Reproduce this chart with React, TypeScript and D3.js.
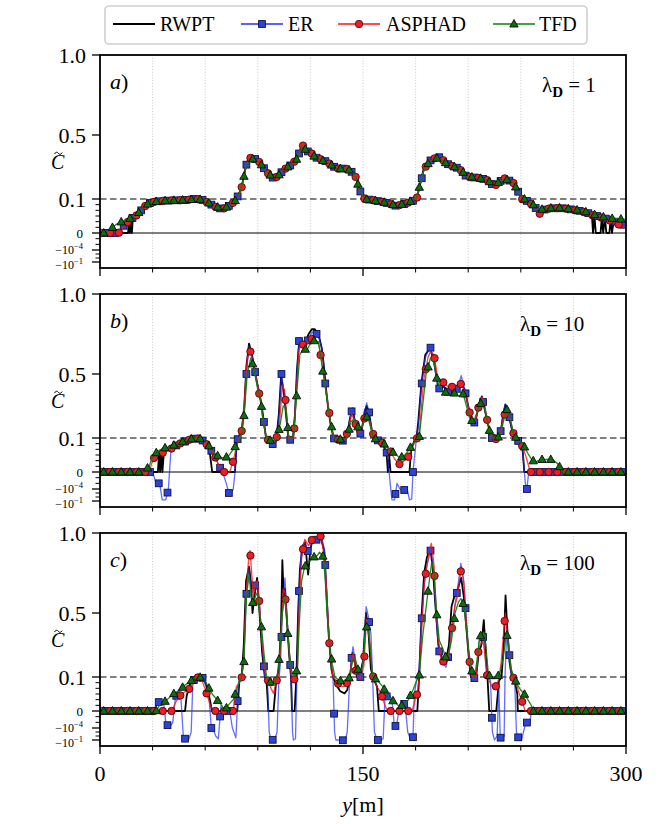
import React from "react";
import * as d3 from "d3";

type Pt = [number, number];

// ---------- categories / labels ----------
const SERIES_NAMES = ["RWPT", "ER", "ASPHAD", "TFD"];
const PANEL_LABELS = ["a", "b", "c"];
const LAMBDA_VALUES = ["1", "10", "100"];
const X_MAJOR_TICKS = [0, 150, 300];
const X_MINOR_TICKS = [30, 60, 90, 120, 180, 210, 240, 270];
const X_GRID = [30, 60, 90, 120, 150, 180, 210, 240, 270];
const Y_MAJOR_TICKS = [1.0, 0.5, 0.1, 0, -1e-4, -1e-1];
const Y_MAJOR_LABELS = ["1.0", "0.5", "0.1", "0", "-4", "-1"];
const Y_MINOR_TICKS = [1e-2, 1e-3, 1e-4, 1e-5, 1e-6, -1e-6, -1e-5, -1e-3, -1e-2];
const THRESHOLD = 0.1;

// ---------- panel a (lambda_D = 1) ----------
const ER_A: Pt[] = [[0,0],[9.5,0],[11.5,3e-7],[14,3e-6],[16,1e-5],[19,6e-5],[21,1.5e-4],[23.5,1e-3],[25.7,6e-3],[28,0.018],[30.4,0.03],[35,0.045],[40,0.055],[45,0.06],[50,0.07],[53,0.09],[55,0.105],[58,0.08],[60,0.04],[63,0.012],[65.6,5e-3],[69.4,1.7e-3],[72,3e-3],[74,8e-3],[77,0.04],[80,0.146],[81.4,0.2],[83.6,0.32],[86,0.365],[88.5,0.35],[91,0.33],[93,0.3],[95,0.27],[98,0.235],[100,0.23],[102,0.25],[104.6,0.28],[107,0.3],[110,0.32],[113,0.37],[115.4,0.44],[118,0.4],[120.7,0.385],[123,0.36],[125.5,0.35],[128,0.34],[131,0.32],[135,0.29],[140,0.29],[142.5,0.28],[145.5,0.25],[148,0.156],[151,0.1],[156,0.06],[160,0.035],[163.5,0.02],[169,6e-3],[173,0.012],[177,0.03],[180.6,0.1],[184.4,0.27],[187,0.33],[189,0.345],[191,0.36],[193,0.365],[195.5,0.345],[198,0.32],[201,0.305],[205,0.29],[209,0.24],[213,0.235],[216.8,0.23],[220.6,0.22],[225,0.18],[228,0.21],[231,0.23],[233.5,0.215],[235.8,0.2],[240.5,0.105],[243,0.06],[245,0.02],[248,5e-3],[250.6,1.5e-4],[252,1.1e-3],[256.6,2.2e-3],[262,2.5e-3],[266,2e-3],[271,1.1e-3],[276,6e-4],[281.4,1.5e-4],[286,6e-5],[291,2e-5],[296,5e-6],[300,2e-6]];
const RWPT_A: Pt[] = [[0,0],[16,0],[16.6,2e-5],[17.1,0],[17.7,4e-5],[18.2,0],[18.8,8e-5],[19.3,1e-4],[21,1.5e-4],[23.5,1e-3],[25.7,6e-3],[28,0.018],[30.4,0.03],[35,0.046],[40,0.055],[45,0.062],[50,0.07],[53,0.09],[55,0.1],[58,0.08],[60,0.04],[63,0.012],[65.6,5e-3],[69.4,1.5e-3],[72,3e-3],[74,8e-3],[77,0.04],[80,0.15],[81.4,0.21],[83.6,0.33],[86,0.36],[88.5,0.35],[91,0.33],[93,0.3],[95,0.27],[98,0.235],[100,0.23],[102,0.25],[104.6,0.28],[107,0.3],[110,0.32],[113,0.375],[115.4,0.445],[118,0.4],[120.7,0.385],[123,0.36],[125.5,0.35],[128,0.34],[131,0.32],[135,0.29],[140,0.29],[142.5,0.28],[145.5,0.25],[148,0.16],[151,0.1],[156,0.06],[160,0.035],[163.5,0.02],[169,6e-3],[173,0.012],[177,0.03],[180.6,0.1],[184.4,0.28],[187,0.33],[189,0.35],[191,0.36],[193,0.36],[195.5,0.345],[198,0.32],[201,0.305],[205,0.29],[209,0.24],[213,0.235],[216.8,0.23],[220.6,0.22],[225,0.18],[228,0.21],[231,0.23],[233.5,0.215],[235.8,0.2],[240.5,0.1],[243,0.06],[245,0.02],[248,5e-3],[250.6,1.5e-4],[252,1.1e-3],[256.6,2.2e-3],[262,2.5e-3],[266,2e-3],[271,1.1e-3],[276,6e-4],[280.5,2e-4],[281.2,0],[282,1e-4],[282.8,0],[285.5,0],[286.2,6e-5],[287,0],[288,5e-5],[288.8,0],[290.5,0],[291.2,2e-5],[292,0],[293,1.5e-5],[296,8e-6],[300,4e-6]];
const ASPHAD_A: Pt[] = [[0,0],[10.5,0],[12,2e-7],[14,2e-6],[16,1e-5],[19,5e-5],[21,1.4e-4],[23.5,9e-4],[25.7,5.5e-3],[28,0.017],[30.4,0.03],[35,0.045],[40,0.056],[45,0.06],[50,0.072],[53,0.09],[55,0.1],[58,0.08],[60,0.04],[63,0.012],[65.6,4.5e-3],[69.4,1.6e-3],[72,3e-3],[74,8e-3],[77,0.04],[80,0.14],[81.4,0.2],[83.6,0.32],[86,0.36],[88.5,0.35],[91,0.33],[93,0.3],[95,0.27],[98,0.235],[100,0.23],[102,0.25],[104.6,0.28],[107,0.3],[110,0.32],[113,0.37],[115.4,0.44],[118,0.4],[120.7,0.385],[123,0.36],[125.5,0.35],[128,0.34],[131,0.32],[135,0.29],[140,0.29],[142.5,0.28],[145.5,0.25],[148,0.15],[151,0.1],[156,0.06],[160,0.035],[163.5,0.02],[169,6e-3],[173,0.012],[177,0.03],[180.6,0.1],[184.4,0.27],[187,0.33],[189,0.345],[191,0.355],[193,0.36],[195.5,0.345],[198,0.32],[201,0.305],[205,0.29],[209,0.24],[213,0.235],[216.8,0.23],[220.6,0.22],[225,0.18],[228,0.21],[231,0.23],[233.5,0.215],[235.8,0.2],[240.5,0.1],[243,0.06],[245,0.02],[248,5e-3],[250.6,2e-4],[252,1.1e-3],[256.6,2.2e-3],[262,2.5e-3],[266,2e-3],[271,1e-3],[276,5e-4],[281.4,1.2e-4],[286,5e-5],[291,1.5e-5],[296,3e-6],[300,8e-7]];
const TFD_A: Pt[] = [[0,0],[3,1e-7],[6,5e-7],[9,3e-6],[12.4,1e-5],[16,2.5e-5],[19,7e-5],[21,1.8e-4],[23.5,1.2e-3],[25.7,6.5e-3],[28,0.019],[30.4,0.032],[35,0.046],[40,0.055],[45,0.061],[50,0.07],[53,0.085],[55,0.1],[58,0.08],[60,0.045],[63,0.014],[65.6,5.5e-3],[69.4,2e-3],[72,3.5e-3],[74,9e-3],[77,0.045],[80,0.15],[81.4,0.21],[83.6,0.31],[86,0.355],[88.5,0.345],[91,0.33],[93,0.3],[95,0.27],[98,0.24],[100,0.235],[102,0.25],[104.6,0.28],[107,0.3],[110,0.32],[113,0.36],[115.4,0.43],[118,0.4],[120.7,0.38],[123,0.36],[125.5,0.35],[128,0.335],[131,0.32],[135,0.29],[140,0.29],[142.5,0.28],[145.5,0.25],[148,0.16],[151,0.1],[156,0.06],[160,0.037],[163.5,0.022],[169,7e-3],[173,0.013],[177,0.035],[180.6,0.11],[184.4,0.27],[187,0.32],[189,0.34],[191,0.355],[193,0.355],[195.5,0.34],[198,0.32],[201,0.305],[205,0.29],[209,0.245],[213,0.235],[216.8,0.23],[220.6,0.22],[225,0.185],[228,0.21],[231,0.225],[233.5,0.215],[235.8,0.2],[240.5,0.11],[243,0.065],[245,0.025],[248,6e-3],[250.6,1e-3],[252,1.5e-3],[256.6,2.5e-3],[262,2.8e-3],[266,2.2e-3],[271,1.3e-3],[276,7e-4],[281.4,2e-4],[286,8e-5],[291,4e-5],[296,3e-5],[300,2.5e-5]];

// ---------- panel b (lambda_D = 10) ----------
const RWPT_B: Pt[] = [[0,0],[33,0],[33.7,1.5e-4],[34.3,0],[35,2e-4],[35.6,0],[36.5,5e-4],[38,6e-4],[40,1e-3],[43,4e-3],[45,8.7e-3],[48,0.02],[50.4,0.045],[52,0.06],[54.5,0.09],[56,0.085],[58,0.05],[60.8,8e-3],[62.5,5e-4],[64,0],[77,0],[78,0.03],[80.8,0.15],[82.2,0.28],[83.5,0.55],[85,0.69],[86.5,0.63],[89.1,0.47],[91.8,0.33],[93.5,0.2],[94.7,0.1],[96,0.04],[98,0.02],[99.4,0.01],[100.5,0.04],[102,0.25],[103.3,0.49],[105,0.37],[106.5,0.2],[107.4,0.1],[108.8,0.04],[110,0.07],[111.2,0.25],[112.3,0.52],[113.5,0.69],[115,0.7],[117,0.7],[119,0.75],[120.8,0.78],[122.5,0.78],[124.6,0.75],[126.5,0.66],[127.7,0.55],[128.8,0.42],[130,0.3],[131.3,0.2],[133.2,0.1],[134.5,0.05],[137,0.03],[139,0.04],[141,0.12],[142.5,0.22],[144,0.28],[145.5,0.2],[147.2,0.12],[149,0.13],[151,0.27],[152.1,0.3],[153.5,0.25],[155,0.15],[156,0.1],[159.6,0.025],[162,3e-3],[163.5,1e-4],[164.2,0],[165,5e-5],[165.7,0],[176.5,0],[177.5,1e-3],[179,0.02],[180.5,0.1],[181.5,0.2],[183.3,0.44],[185.5,0.62],[188.3,0.66],[190.5,0.58],[192.7,0.43],[194,0.41],[196,0.42],[198.4,0.4],[200,0.42],[202,0.41],[204,0.43],[206,0.44],[208.1,0.4],[210,0.3],[212.5,0.19],[214,0.2],[216,0.3],[217.8,0.36],[219,0.3],[220.6,0.22],[222.5,0.13],[223.5,0.1],[225.4,0.04],[227,0.05],[228.7,0.15],[230,0.25],[231.2,0.31],[232.5,0.28],[234,0.2],[236,0.1],[239.4,0.02],[241,1e-3],[242,0],[300,0]];
const ER_B: Pt[] = [[0,0],[30,0],[32,-1e-5],[34,-1e-5],[35.5,-0.05],[37.5,-0.05],[39,-1e-4],[40.5,1e-3],[43,4e-3],[45,8.7e-3],[48,0.02],[50.4,0.045],[52,0.06],[54.5,0.09],[56,0.085],[58,0.05],[60.8,8e-3],[63,1e-3],[65.6,5e-5],[68,1e-6],[70,0],[72,-1e-5],[73.5,-1e-3],[75,-1e-3],[76,-1e-4],[77,0],[78,0.03],[80.8,0.144],[82.2,0.25],[83.5,0.5],[85,0.675],[86.5,0.63],[89.1,0.477],[91.8,0.33],[93.5,0.2],[94.7,0.1],[96,0.04],[97.5,0.02],[99.4,4e-3],[100.5,0.04],[102,0.227],[103.5,0.5],[105,0.38],[106.5,0.2],[107.4,0.1],[108.8,0.04],[110,0.07],[111.2,0.23],[112.3,0.5],[113.5,0.706],[115,0.7],[117,0.68],[119,0.72],[120.8,0.76],[122.5,0.76],[124.6,0.74],[126.5,0.66],[127.7,0.55],[128.8,0.4],[130,0.3],[131.3,0.2],[133.2,0.1],[134.5,0.045],[137,0.03],[139,0.035],[141,0.12],[142.5,0.22],[144,0.29],[145.5,0.2],[147.2,0.12],[149,0.13],[151,0.27],[152.1,0.32],[153.5,0.26],[155,0.15],[156,0.1],[159.6,0.025],[162,5e-3],[164,1e-4],[165.5,-1e-5],[166.5,-0.05],[168,-0.05],[169.4,-1e-5],[171,-1e-4],[173,-3e-4],[175,-5e-5],[176.5,-0.05],[177.8,-0.03],[178.5,0],[180.5,0.1],[181.5,0.165],[183.3,0.425],[185.5,0.6],[188.3,0.675],[190.5,0.56],[192.7,0.425],[194,0.4],[196,0.42],[198.4,0.39],[200,0.38],[202,0.4],[204,0.41],[206,0.49],[207,0.45],[208.1,0.4],[210,0.3],[212.5,0.19],[214,0.2],[216,0.3],[217.8,0.36],[219,0.3],[220.6,0.22],[222.5,0.13],[223.5,0.1],[225.4,0.04],[227,0.05],[228.7,0.15],[230,0.25],[231.2,0.31],[232.5,0.29],[234,0.2],[236,0.1],[239.4,0.02],[241,1e-3],[242.6,-1e-5],[243.5,-1e-4],[244.5,0],[300,0]];
const ASPHAD_B: Pt[] = [[0,0],[26,0],[28,1e-7],[30.4,2.5e-5],[35,2e-4],[40,1e-3],[45,8.7e-3],[50.4,0.045],[54.5,0.08],[56,0.08],[58,0.04],[60.8,8e-3],[63,1e-3],[65.6,5e-5],[68,1e-6],[70.4,0],[74,0],[76,1e-5],[78,5e-3],[80.8,0.144],[82.5,0.35],[84,0.6],[85.6,0.65],[87,0.58],[90.5,0.4],[92.5,0.25],[94.7,0.1],[96.5,0.03],[98.5,0.015],[100.5,0.05],[102.5,0.2],[104,0.43],[105.3,0.4],[106.5,0.25],[107.5,0.1],[109,0.05],[110.5,0.1],[111.5,0.3],[113.5,0.65],[115,0.7],[117,0.66],[119,0.71],[121,0.72],[123,0.71],[124.6,0.7],[125.5,0.64],[127.5,0.5],[130,0.32],[131.5,0.2],[133.2,0.1],[135,0.05],[138,0.05],[140,0.09],[141.5,0.15],[143.5,0.25],[145.5,0.2],[147.2,0.13],[149,0.15],[151.5,0.25],[153,0.24],[155,0.154],[156.5,0.1],[160,0.025],[165.3,8e-4],[168,2e-5],[171.1,2e-6],[173.5,1e-5],[175.8,5e-5],[178,2e-3],[180.5,0.06],[182,0.12],[184.6,0.46],[187,0.6],[188.5,0.64],[190.5,0.62],[192.5,0.48],[195.6,0.45],[198.4,0.42],[201,0.42],[204,0.42],[206,0.44],[208.5,0.38],[210.5,0.27],[212.5,0.2],[214,0.2],[216,0.3],[218,0.355],[219.5,0.3],[221,0.2],[223.5,0.1],[225.5,0.06],[227.5,0.1],[228.7,0.154],[230,0.22],[231.5,0.27],[233,0.25],[234,0.22],[236,0.12],[237.5,0.07],[239.4,0.02],[241,3e-3],[243,5e-5],[245.4,0],[300,0]];
const TFD_B: Pt[] = [[0,0],[25,0],[28,1e-6],[30,5e-5],[33,5e-4],[36,1.5e-3],[40,3e-3],[45,0.012],[50,0.05],[55,0.1],[57,0.08],[60,0.02],[63,2e-3],[66,1e-4],[70,3e-5],[73,5e-5],[76,1e-3],[79,0.02],[81,0.13],[82.2,0.25],[84,0.5],[86,0.6],[87.5,0.55],[90,0.4],[91.8,0.33],[93,0.2],[95,0.1],[97,0.04],[99,0.03],[101,0.08],[103,0.2],[104.5,0.3],[106,0.29],[107.5,0.12],[109,0.07],[110.5,0.12],[112,0.35],[114,0.62],[116,0.66],[118,0.65],[120.5,0.7],[122.5,0.71],[124.6,0.7],[126,0.6],[128,0.45],[131.3,0.21],[133.5,0.1],[136,0.06],[139,0.06],[141,0.1],[143,0.2],[145,0.22],[147.5,0.16],[149.5,0.17],[151.5,0.24],[153,0.22],[156,0.1],[160,0.03],[163,5e-3],[166,6e-4],[169,1e-4],[171.1,3e-5],[174,1e-4],[177,2e-3],[180,0.04],[182,0.1],[184,0.3],[186,0.5],[188.5,0.6],[190.5,0.57],[192.5,0.45],[195,0.4],[198,0.38],[200,0.37],[202,0.38],[204,0.39],[207,0.38],[209,0.3],[211,0.22],[213,0.2],[215,0.26],[218,0.34],[220,0.26],[222,0.15],[224,0.1],[226,0.07],[228.5,0.12],[230,0.2],[232,0.28],[233.5,0.24],[236,0.12],[238,0.06],[240,0.02],[242,3e-3],[244,2e-4],[246,2e-5],[248,5e-6],[250,1e-5],[252,1.6e-5],[258,1.6e-5],[261,3e-6],[264,0],[300,0]];

// ---------- panel c (lambda_D = 100) ----------
const RWPT_C: Pt[] = [[0,0],[48.5,0],[49.4,4e-5],[51,3e-3],[52.5,0.04],[54.2,0.09],[56,0.1],[57.8,0.1],[59,0.06],[60.5,5e-3],[62,1e-4],[63.9,0],[78.3,0],[79.5,0.02],[80.8,0.1],[82,0.3],[83.3,0.7],[85,0.79],[86,0.7],[87,0.5],[88,0.6],[89.6,0.72],[91,0.5],[92.5,0.25],[94,0.1],[95,0.02],[96,0],[99,0],[100.5,0.02],[102,0.15],[103.2,0.4],[104,0.83],[104.8,0.6],[105.5,0.65],[106.8,0.42],[108,0.22],[109,0.05],[109.5,0],[111,0],[112,0.1],[113,0.5],[114,0.77],[115.5,0.92],[117,0.94],[118.7,0.74],[120,0.9],[121.5,0.97],[124,0.95],[126,0.97],[128,0.88],[129.5,0.55],[130.5,0.35],[132,0.15],[133,0.08],[134.5,6e-3],[137,3e-4],[139.5,1.3e-4],[141,5e-4],[142.5,0.05],[144,0.25],[145,0.22],[146.5,0.1],[148,0.08],[150,0.2],[151.7,0.5],[153,0.4],[154.5,0.15],[156,0.05],[158,2e-3],[159,0],[181,0],[182,0.1],[183.5,0.5],[184.9,0.75],[186.5,0.85],[188.5,0.9],[190,0.75],[191.6,0.5],[193,0.3],[195,0.22],[197.3,0.2],[199,0.3],[200.5,0.54],[202,0.6],[203.5,0.62],[204.7,0.675],[206,0.72],[207.5,0.6],[209,0.4],[210.5,0.2],[211.5,0.1],[213,0.06],[214.5,0.1],[216,0.25],[217.5,0.3],[218.9,0.456],[219.8,0.3],[221,0.08],[222,0],[226,0],[227.5,0.02],[229,0.1],[230.3,0.3],[231.3,0.61],[232.3,0.4],[233.5,0.2],[235,0.1],[236.5,0.02],[238,1e-4],[238.3,0],[300,0]];
const ER_C: Pt[] = [[0,0],[30,0],[32,1e-6],[34.2,7e-6],[36.5,1e-6],[37.5,-1e-5],[39.5,-1e-4],[41.5,-1e-5],[43,2e-5],[44.7,4e-4],[46,1e-4],[47.5,-1e-2],[49,-0.1],[50.5,-0.1],[52,-1e-3],[53,0.02],[55,0.09],[57,0.1],[58.5,0.07],[60,5e-3],[62,1e-4],[63.5,-1e-4],[64.5,-1.5e-4],[66,-0.01],[67.5,-0.05],[69,1e-6],[70,0],[74,0],[75.5,-1e-4],[77.5,-0.03],[79,0.01],[80.5,0.07],[82,0.2],[83.3,0.6],[85,0.77],[86.5,0.62],[88,0.66],[89.6,0.7],[91,0.55],[92.5,0.3],[94,0.1],[95.5,0.04],[96.5,-1e-3],[97.5,-0.08],[99.5,-0.1],[101,-1e-3],[102,0.02],[103,0.2],[104,0.5],[105.5,0.72],[106.8,0.45],[107.8,0.28],[109,0.1],[109.8,-1e-3],[110.3,-0.1],[111.5,-0.05],[112.3,0.1],[113.3,0.6],[114.9,0.9],[116.8,0.95],[118.7,0.88],[121.5,0.95],[124,0.96],[126,0.99],[128,0.9],[129,0.7],[130.4,0.4],[131.5,0.22],[132.9,0.1],[133.8,-1e-3],[134.5,-0.1],[137,-0.1],[139,-0.12],[140,-0.1],[141,-1e-3],[142.5,0.1],[143.5,0.22],[144.3,0.29],[145.5,0.2],[147,0.1],[149,0.1],[150.5,0.25],[151.8,0.54],[153,0.48],[154.5,0.37],[155.5,0.1],[156.5,-1e-3],[158,-0.1],[160,-0.1],[161.5,-0.05],[162.5,1e-5],[164.6,1.6e-4],[166.5,1e-5],[168,-1e-4],[169.4,-1e-5],[171,1e-6],[174,2e-6],[175.5,-1e-3],[177,-0.05],[178.5,-0.02],[179.3,1.2e-4],[180.5,0.02],[182,0.15],[183.5,0.467],[185.5,0.75],[188.5,0.89],[190,0.8],[191.6,0.5],[193,0.28],[195,0.2],[197.3,0.16],[199,0.25],[200.5,0.4],[202.9,0.58],[204.5,0.7],[205.8,0.81],[207.6,0.675],[209,0.45],[210.4,0.23],[211.4,0.1],[213,0.05],[214.5,0.1],[216.2,0.32],[218.5,0.35],[219.5,0.25],[220.8,0.1],[222.7,0.03],[223.8,-1e-3],[225,-0.1],[226.5,-0.01],[227.5,1e-3],[228.3,-0.02],[229.5,-0.1],[230.5,-0.01],[231,0.1],[232,0.4],[232.9,0.34],[234,0.15],[235,0.1],[236.5,0.03],[237.5,-1e-3],[239,-0.1],[240.5,-0.1],[241.5,-1e-3],[243,-1e-5],[245.1,-1.5e-5],[246,0],[300,0]];
const ASPHAD_C: Pt[] = [[0,0],[40,0],[41,1e-7],[43,3e-6],[45.6,5e-5],[48,2e-4],[51.3,1e-3],[53.5,0.02],[55.9,0.09],[57.5,0.07],[59,5e-3],[60.7,1.6e-4],[63,1e-6],[64.5,0],[76,0],[77.8,2e-3],[79.5,0.01],[80.7,0.05],[82,0.2],[83.3,0.6],[85,0.88],[85.6,0.89],[86.5,0.75],[87.5,0.6],[88.5,0.68],[89.8,0.7],[91,0.55],[92.5,0.3],[94.5,0.1],[96,0.02],[97.5,1e-3],[99,1.3e-4],[100.6,0.02],[102,0.1],[103,0.3],[104.5,0.65],[105.5,0.63],[106.8,0.435],[108,0.25],[109.2,0.1],[110.5,0.04],[111.5,0.04],[112.5,0.1],[113.5,0.5],[115,0.85],[116.8,0.96],[119,0.92],[121.5,0.97],[124,0.97],[126,0.98],[128,0.85],[129.5,0.6],[130.5,0.35],[131.5,0.22],[132.9,0.1],[134.5,0.03],[136.5,3e-3],[139,2e-3],[141,0.01],[142.5,0.08],[143.5,0.2],[144.5,0.25],[145.5,0.15],[147,0.09],[148.5,0.05],[150.5,0.17],[152,0.46],[153.5,0.38],[155,0.15],[156,0.06],[158,2e-3],[160.2,1.3e-4],[162.5,1e-6],[164,0],[178,0],[180,2e-5],[181.1,1.3e-4],[182,0.1],[183.5,0.4],[184.9,0.675],[186.5,0.8],[188,0.9],[189,0.935],[190.5,0.8],[191.6,0.55],[193,0.33],[194.4,0.23],[195.5,0.2],[197.3,0.18],[199,0.25],[200.5,0.38],[202.5,0.55],[203.8,0.6],[205,0.7],[206.2,0.79],[207.5,0.7],[208.5,0.51],[210,0.28],[211.5,0.12],[213.3,0.05],[214.5,0.1],[216,0.28],[217.8,0.32],[219,0.3],[220.5,0.12],[222,0.02],[224.6,6.6e-4],[226.5,5e-3],[227.5,0.06],[228.7,0.18],[230,0.35],[231.2,0.5],[232.5,0.35],[234.4,0.16],[235.5,0.1],[237,0.02],[239.3,7e-5],[241,3e-6],[242.5,0],[300,0]];
const TFD_C: Pt[] = [[0,0],[30,0],[32,1e-7],[34,1e-6],[37.1,5e-6],[40,3e-5],[42.5,1.5e-4],[45.6,5e-4],[48,3e-3],[51.3,0.015],[53.5,0.05],[56,0.1],[58,0.08],[60,0.02],[61.6,2e-3],[64,1e-4],[67.3,6e-6],[69.5,1e-6],[71,1e-7],[73,1e-6],[76.1,1.1e-5],[79,5e-3],[80.5,0.06],[82.1,0.196],[83.5,0.6],[85,0.74],[86.2,0.6],[87.5,0.55],[88.5,0.6],[89.8,0.63],[91,0.5],[92,0.425],[93.5,0.25],[95,0.1],[96.5,0.03],[98,3e-3],[99.5,0.01],[101,0.1],[102.5,0.25],[104,0.5],[105.3,0.6],[106.5,0.45],[107.8,0.28],[109,0.15],[110.5,0.1],[112.6,0.15],[113.5,0.4],[115,0.7],[116.5,0.78],[117.8,0.81],[120,0.83],[122,0.85],[124,0.86],[125.2,0.88],[127.5,0.85],[128.5,0.7],[129.5,0.5],[131,0.3],[132.5,0.18],[134,0.1],[135.5,0.04],[138,0.015],[141,0.025],[142.5,0.1],[144,0.2],[145.5,0.22],[147,0.15],[148.5,0.12],[150,0.18],[151.4,0.4],[152.5,0.42],[154,0.3],[155.5,0.1],[158,0.03],[161.3,2e-3],[163.5,1e-4],[165.9,8.6e-6],[168,5e-6],[170,1e-6],[173,1e-6],[176,1e-5],[178.5,5e-4],[180.5,0.02],[182,0.1],[184,0.35],[186.8,0.61],[189.2,0.82],[190.5,0.75],[192,0.5],[193.5,0.33],[195.4,0.28],[197.3,0.22],[199,0.25],[200.5,0.33],[202.5,0.5],[204.5,0.57],[205.8,0.59],[207.5,0.55],[209,0.4],[210.5,0.25],[212,0.14],[213.5,0.1],[215,0.2],[216.5,0.35],[218.9,0.38],[220,0.3],[221.5,0.12],[223,0.06],[224.5,0.05],[226,0.07],[228,0.12],[230,0.22],[231.8,0.38],[233,0.3],[234.5,0.15],[236,0.1],[238.3,3e-3],[240,5e-4],[242,1e-4],[244,1e-5],[246,1e-6],[247,0],[300,0]];

const PANEL_DATA: Pt[][][] = [
  [RWPT_A, ER_A, ASPHAD_A, TFD_A],
  [RWPT_B, ER_B, ASPHAD_B, TFD_B],
  [RWPT_C, ER_C, ASPHAD_C, TFD_C],
];

// ---------- styling ----------
const FONT = "Liberation Serif, Times New Roman, serif";
const STYLES = [
  { color: "#000000", width: 1.8, opacity: 1, marker: "none", fill: "", edge: "", offset: 0 },
  { color: "#1f2fff", width: 1.3, opacity: 0.7, marker: "square", fill: "#2a44d8", edge: "#101040", offset: 3.5 },
  { color: "#ff1010", width: 1.3, opacity: 0.8, marker: "circle", fill: "#ee1c24", edge: "#4a0808", offset: 0.8 },
  { color: "#0a800a", width: 1.3, opacity: 0.9, marker: "triangle", fill: "#0d6e0d", edge: "#0a0a0a", offset: 2.1 },
];

const W = 658;
const HSVG = 824;
const LEFT = 100;
const RIGHT = 626;
const PANEL_TOPS = [55, 294, 533];
const PH = 213;

const xScale = d3.scaleLinear().domain([0, 300]).range([LEFT, RIGHT]);
const yLin = d3.scaleLinear().domain([0.1, 1]).range([144, 0]);
const yPos = d3.scaleLog().domain([1e-7, 0.1]).range([178, 144]);
const yNegA = d3.scaleLog().domain([1e-7, 1e-4]).range([178, 195]);
const yNegB = d3.scaleLog().domain([1e-4, 1e-1]).range([195, 207]);

function yMap(v: number): number {
  if (v >= 0.1) return yLin(Math.min(v, 1.05));
  if (v >= 1e-7) return yPos(v);
  if (v > -1e-7) return 178;
  const a = -v;
  if (a <= 1e-4) return yNegA(a);
  return yNegB(Math.min(a, 0.4));
}

function interpPx(pts: Pt[], m: number, top: number): [number, number] | null {
  for (let i = 0; i < pts.length - 1; i++) {
    const [m0, v0] = pts[i];
    const [m1, v1] = pts[i + 1];
    if (m >= m0 && m <= m1) {
      const t = m1 === m0 ? 0 : (m - m0) / (m1 - m0);
      const y0 = yMap(v0), y1 = yMap(v1);
      return [xScale(m), top + y0 + t * (y1 - y0)];
    }
  }
  return null;
}

function Marker({ kind, x, y, fill, edge }: { kind: string; x: number; y: number; fill: string; edge: string }) {
  if (kind === "square") return <rect x={x - 3.4} y={y - 3.4} width={6.8} height={6.8} fill={fill} stroke={edge} strokeWidth={0.9} />;
  if (kind === "circle") return <circle cx={x} cy={y} r={3.7} fill={fill} stroke={edge} strokeWidth={0.9} />;
  if (kind === "triangle") return <path d={`M${x},${y - 4.5}L${x + 4.2},${y + 3}L${x - 4.2},${y + 3}Z`} fill={fill} stroke={edge} strokeWidth={0.9} />;
  return null;
}

function Panel({ idx }: { idx: number }) {
  const top = PANEL_TOPS[idx];
  const data = PANEL_DATA[idx];
  const line = d3.line<Pt>().x((d) => xScale(d[0])).y((d) => top + yMap(d[1]));
  const clipId = `clip${idx}`;
  const isLast = idx === 2;
  const ty = top + 98;
  return (
    <g>
      <defs>
        <clipPath id={clipId}>
          <rect x={LEFT} y={top} width={RIGHT - LEFT} height={PH} />
        </clipPath>
      </defs>
      {X_GRID.map((g) => (
        <line key={`g${g}`} x1={xScale(g)} x2={xScale(g)} y1={top} y2={top + PH} stroke="#bdbdbd" strokeWidth={0.8} strokeDasharray="1,1.8" />
      ))}
      <line x1={LEFT} x2={RIGHT} y1={top + yMap(0)} y2={top + yMap(0)} stroke="#000" strokeWidth={1} />
      <line x1={LEFT} x2={RIGHT} y1={top + yMap(THRESHOLD)} y2={top + yMap(THRESHOLD)} stroke="#808080" strokeWidth={1.8} strokeDasharray="6.5,3.5" />
      <g clipPath={`url(#${clipId})`}>
        {data.map((pts, si) => {
          const st = STYLES[si];
          const markers: [number, number][] = [];
          if (st.marker !== "none") {
            for (let m = st.offset; m <= 300; m += 5) {
              const p = interpPx(pts, m, top);
              if (p) markers.push(p);
            }
          }
          return (
            <g key={SERIES_NAMES[si]}>
              <path d={line(pts) || ""} fill="none" stroke={st.color} strokeWidth={st.width} strokeOpacity={st.opacity} strokeLinejoin="round" />
              {markers.map((p, k) => (
                <Marker key={k} kind={st.marker} x={p[0]} y={p[1]} fill={st.fill} edge={st.edge} />
              ))}
            </g>
          );
        })}
      </g>
      {/* frame */}
      <rect x={LEFT} y={top} width={RIGHT - LEFT} height={PH} fill="none" stroke="#000" strokeWidth={1.8} />
      {/* y ticks */}
      {Y_MAJOR_TICKS.map((t, i) => {
        const y = top + yMap(t);
        const big = i < 3;
        const lab = Y_MAJOR_LABELS[i];
        const shift = lab === "-4" ? 3.5 : 6.5;
        return (
          <g key={`yt${i}`}>
            <line x1={LEFT - 8} x2={LEFT} y1={y} y2={y} stroke="#000" strokeWidth={1.3} />
            {big ? (
              <text x={LEFT - 14} y={y + 7.5} textAnchor="end" fontFamily={FONT} fontSize={22}>{lab}</text>
            ) : lab === "0" ? (
              <text x={LEFT - 17} y={y + 4.5} textAnchor="end" fontFamily={FONT} fontSize={13}>0</text>
            ) : (
              <text x={LEFT - 17} y={y + shift} textAnchor="end" fontFamily={FONT} fontSize={12}>
                {"\u221210"}
                <tspan dy={-4.5} fontSize={8.5}>{"\u2212" + lab.slice(1)}</tspan>
              </text>
            )}
          </g>
        );
      })}
      {Y_MINOR_TICKS.map((t, i) => (
        <line key={`ym${i}`} x1={LEFT - 4.5} x2={LEFT} y1={top + yMap(t)} y2={top + yMap(t)} stroke="#000" strokeWidth={1} />
      ))}
      {/* x ticks */}
      {X_MAJOR_TICKS.map((t) => (
        <line key={`xM${t}`} x1={xScale(t)} x2={xScale(t)} y1={top + PH} y2={top + PH + 8} stroke="#000" strokeWidth={1.3} />
      ))}
      {X_MINOR_TICKS.map((t) => (
        <line key={`xm${t}`} x1={xScale(t)} x2={xScale(t)} y1={top + PH} y2={top + PH + 4.5} stroke="#000" strokeWidth={1} />
      ))}
      {isLast &&
        X_MAJOR_TICKS.map((t) => (
          <text key={`xl${t}`} x={xScale(t)} y={top + PH + 35} textAnchor="middle" fontFamily={FONT} fontSize={22}>{t}</text>
        ))}
      {/* y label: italic C with a drawn tilde accent */}
      <text x={51} y={top + 114} fontFamily={FONT} fontSize={20} fontStyle="italic">C</text>
      <path d={`M54.5,${ty + 1} c1.2,-2.2 2.6,-2.2 3.8,-0.7 c1.2,1.5 2.6,1.5 3.8,-0.7`} fill="none" stroke="#000" strokeWidth={1} />
      {/* panel label */}
      <text x={110} y={top + 34} fontFamily={FONT} fontSize={22}>
        <tspan fontStyle="italic">{PANEL_LABELS[idx]}</tspan>)
      </text>
      {/* lambda */}
      <text x={idx === 0 ? 542 : 520} y={top + 37} fontFamily={FONT} fontSize={21}>
        {"\u03bb"}
        <tspan dy={5} fontSize={15} fontWeight="bold">D</tspan>
        <tspan dy={-5}>{" = " + LAMBDA_VALUES[idx]}</tspan>
      </text>
    </g>
  );
}

function Legend() {
  const items = [
    { lx: 113, tx: 160 },
    { lx: 241, tx: 288 },
    { lx: 338, tx: 386 },
    { lx: 493, tx: 539 },
  ];
  const yc = 24;
  return (
    <g>
      <rect x={105} y={6} width={482} height={38} rx={4} fill="#fff" stroke="#cfcfcf" strokeWidth={1.6} />
      {items.map((it, i) => {
        const st = STYLES[i];
        return (
          <g key={SERIES_NAMES[i]}>
            <line x1={it.lx} x2={it.lx + 42} y1={yc} y2={yc} stroke={st.color} strokeWidth={st.width} />
            <Marker kind={st.marker} x={it.lx + 21} y={yc} fill={st.fill} edge={st.edge} />
            <text x={it.tx} y={yc + 7} fontFamily={FONT} fontSize={20}>{SERIES_NAMES[i]}</text>
          </g>
        );
      })}
    </g>
  );
}

export default function App() {
  return (
    <svg width={W} height={HSVG} style={{ position: "absolute", left: 0, top: 0, background: "#fff" }}>
      <rect x={0} y={0} width={W} height={HSVG} fill="#fff" />
      {PANEL_LABELS.map((_, i) => (
        <Panel key={i} idx={i} />
      ))}
      <Legend />
      <text x={363} y={812} textAnchor="middle" fontFamily={FONT} fontSize={22}>
        <tspan fontStyle="italic">y</tspan>[m]
      </text>
    </svg>
  );
}
